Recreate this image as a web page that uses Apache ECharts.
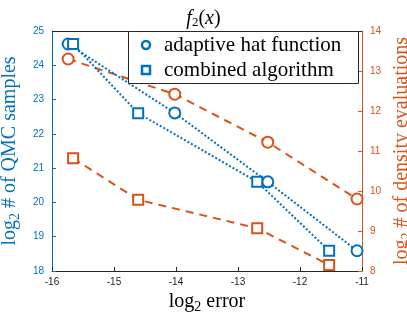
<!DOCTYPE html>
<html><head><meta charset="utf-8">
<script src="https://cdn.jsdelivr.net/npm/echarts@6/dist/echarts.min.js"></script>
<style>html,body{margin:0;padding:0;background:#fff}#c{width:407px;height:314px}</style>
</head><body><div id="c"></div>
<script>
// Data
const hatErr = [-15.74, -14.02, -12.52, -11.08];
const hatQMC = [24.62, 22.61, 20.6, 18.59];
const hatDens = [13.3, 12.42, 11.22, 9.8];
const combErr = [-15.66, -14.61, -12.69, -11.53];
const combQMC = [24.62, 22.6, 20.6, 18.59];
const combDens = [10.82, 9.78, 9.07, 8.15];
const legendNames = ['adaptive hat function', 'combined algorithm'];

const BLUE = '#0072BD', ORANGE = '#D95319';
const serif = 'Liberation Serif';
const sans = 'Liberation Sans';
const zip = (a, b) => a.map((v, i) => [v, b[i]]);

const chart = echarts.init(document.getElementById('c'));
const rich = (c) => ({
  a: {fontFamily: serif, fontSize: 20, color: c, fontWeight: 'normal'},
  s: {fontFamily: serif, fontSize: 14, color: c, fontWeight: 'normal', padding: [10,0,0,0]}
});
chart.setOption({
  animation: false,
  title: {
    text: '{i|f}{s|2}{n|(}{i|x}{n|)}',
    left: 'center', top: 3,
    textStyle: {
      fontWeight: 'normal',
      rich: {
        i: {fontFamily: serif, fontStyle: 'italic', fontWeight: 'normal', fontSize: 20, color: '#000'},
        n: {fontFamily: serif, fontWeight: 'normal', fontSize: 20, color: '#000'},
        s: {fontFamily: serif, fontWeight: 'normal', fontSize: 13, color: '#000', padding: [8,0,0,0]}
      }
    }
  },
  grid: {left: 52, right: 45, top: 31, bottom: 43, outerBoundsMode: 'none', containLabel: false},
  xAxis: {
    type: 'value', min: -16, max: -11, interval: 1,
    name: '{a|log}{s|2}{a| error}', nameLocation: 'middle', nameGap: 19,
    nameTextStyle: {rich: rich('#000')},
    axisLine: {show: true, lineStyle: {color: '#262626', width: 1}},
    axisTick: {inside: true, length: 4, lineStyle: {color: '#262626'}},
    axisLabel: {fontFamily: sans, fontSize: 10, color: '#262626', margin: 6},
    splitLine: {show: false}
  },
  yAxis: [{
    type: 'value', min: 18, max: 25, interval: 1, position: 'left',
    name: '{a|log}{s|2}{a| # of QMC samples}', nameLocation: 'middle', nameGap: 25, nameRotate: 90,
    nameTextStyle: {rich: rich(BLUE)},
    axisLine: {show: true, lineStyle: {color: BLUE, width: 1}},
    axisTick: {show: true, inside: true, length: 4, lineStyle: {color: BLUE}},
    axisLabel: {fontFamily: sans, fontSize: 10, color: BLUE, margin: 8},
    splitLine: {show: false}
  }, {
    type: 'value', min: 8, max: 14, interval: 1, position: 'right',
    name: '{a|log}{s|2}{a| # of density evaluations}', nameLocation: 'middle', nameGap: 24, nameRotate: 90,
    nameTextStyle: {rich: rich(ORANGE)},
    axisLine: {show: true, lineStyle: {color: ORANGE, width: 1}},
    axisTick: {show: true, inside: true, length: 4, lineStyle: {color: ORANGE}},
    axisLabel: {fontFamily: sans, fontSize: 10, color: ORANGE, margin: 8},
    splitLine: {show: false}
  }],
  graphic: [
    {type: 'line', shape: {x1: 52, y1: 31.5, x2: 362, y2: 31.5}, style: {stroke: '#262626', lineWidth: 1}, z: 1},
    {type: 'rect', shape: {x: 128.5, y: 31.5, width: 230, height: 52}, style: {fill: '#fff', stroke: '#262626', lineWidth: 1}, z: 100},
    {type: 'circle', shape: {cx: 146, cy: 45, r: 4}, style: {fill: '#fff', stroke: BLUE, lineWidth: 2.5}, z: 101},
    {type: 'rect', shape: {x: 142, y: 66, width: 8, height: 8}, style: {fill: '#fff', stroke: BLUE, lineWidth: 2.5}, z: 101},
    {type: 'text', x: 164, y: 45, style: {text: legendNames[0], font: '21px "Liberation Serif"', fill: '#000', verticalAlign: 'middle'}, z: 101},
    {type: 'text', x: 164, y: 70, style: {text: legendNames[1], font: '21px "Liberation Serif"', fill: '#000', verticalAlign: 'middle'}, z: 101}
  ],
  series: [
    {name: legendNames[0], type: 'line', yAxisIndex: 0, data: zip(hatErr, hatQMC),
     symbol: 'emptyCircle', symbolSize: 11, lineStyle: {color: BLUE, width: 2, type: [2, 2]},
     itemStyle: {color: BLUE, borderColor: BLUE, borderWidth: 2.5}, z: 3},
    {name: legendNames[1], type: 'line', yAxisIndex: 0, data: zip(combErr, combQMC),
     symbol: 'emptyRect', symbolSize: 10, lineStyle: {color: BLUE, width: 2, type: [2, 2]},
     itemStyle: {color: BLUE, borderColor: BLUE, borderWidth: 2.5}, z: 3},
    {name: 'hat density', type: 'line', yAxisIndex: 1, data: zip(hatErr, hatDens),
     symbol: 'emptyCircle', symbolSize: 11, lineStyle: {color: ORANGE, width: 2, type: [8, 6]},
     itemStyle: {color: ORANGE, borderColor: ORANGE, borderWidth: 2.5}, z: 2},
    {name: 'combined density', type: 'line', yAxisIndex: 1, data: zip(combErr, combDens),
     symbol: 'emptyRect', symbolSize: 10, lineStyle: {color: ORANGE, width: 2, type: [8, 6]},
     itemStyle: {color: ORANGE, borderColor: ORANGE, borderWidth: 2.5}, z: 2}
  ]
});
</script></body></html>
